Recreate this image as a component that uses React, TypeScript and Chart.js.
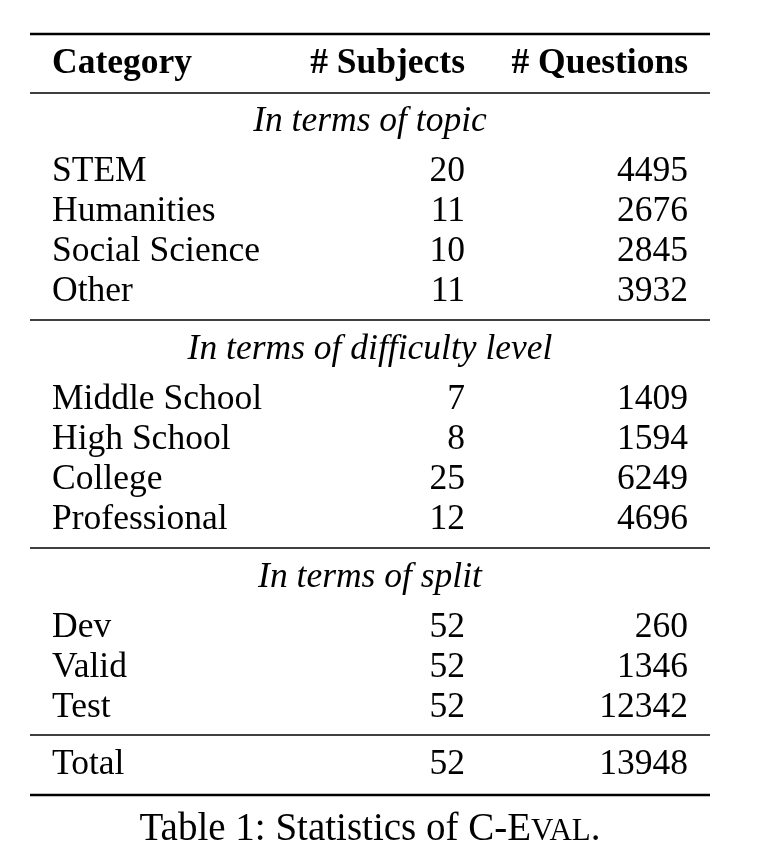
import { useEffect, useRef } from 'react';
import { Chart, registerables } from 'chart.js';

Chart.register(...registerables);

const headers = ['Category', '# Subjects', '# Questions'];
const sections = ['In terms of topic', 'In terms of difficulty level', 'In terms of split'];
const categories = [
  ['STEM', 'Humanities', 'Social Science', 'Other'],
  ['Middle School', 'High School', 'College', 'Professional'],
  ['Dev', 'Valid', 'Test'],
];
const subjects = [
  [20, 11, 10, 11],
  [7, 8, 25, 12],
  [52, 52, 52],
];
const questions = [
  [4495, 2676, 2845, 3932],
  [1409, 1594, 6249, 4696],
  [260, 1346, 12342],
];
const total = { label: 'Total', subjects: 52, questions: 13948 };

const SERIF = '"Liberation Serif", "DejaVu Serif", serif';

export default function App() {
  const canvasRef = useRef<HTMLCanvasElement | null>(null);
  const chartRef = useRef<Chart | null>(null);

  useEffect(() => {
    document.body.style.margin = '0';
    if (!canvasRef.current) return;
    if (chartRef.current) chartRef.current.destroy();

    const tablePlugin = {
      id: 'table',
      afterDraw(chart: any) {
        const ctx = chart.ctx as CanvasRenderingContext2D;
        const x = chart.scales.x;
        const y = chart.scales.y;
        const px = (v: number) => x.getPixelForValue(v);
        const py = (v: number) => y.getPixelForValue(v);
        ctx.save();
        ctx.fillStyle = '#000';
        ctx.strokeStyle = '#000';
        const rule = (at: number, w: number) => {
          ctx.lineWidth = w;
          ctx.beginPath();
          ctx.moveTo(px(30), py(at));
          ctx.lineTo(px(710), py(at));
          ctx.stroke();
        };
        const text = (s: string, tx: number, ty: number, align: CanvasTextAlign, font: string) => {
          ctx.font = font;
          ctx.textAlign = align;
          ctx.textBaseline = 'middle';
          ctx.fillText(s, px(tx), py(ty));
        };
        const reg = `35.5px ${SERIF}`;
        const bold = `bold 35.5px ${SERIF}`;
        const ital = `italic 35.5px ${SERIF}`;

        rule(34, 2.5);
        text(headers[0], 52, 64, 'left', bold);
        text(headers[1], 465, 64, 'right', bold);
        text(headers[2], 688, 64, 'right', bold);
        rule(93, 1.5);

        const starts = [122, 350, 578];
        sections.forEach((sec, s) => {
          const top = starts[s];
          text(sec, 370, top, 'center', ital);
          categories[s].forEach((c, i) => {
            const ry = top + 50 + i * 40;
            text(c, 52, ry, 'left', reg);
            text(String(subjects[s][i]), 465, ry, 'right', reg);
            text(String(questions[s][i]), 688, ry, 'right', reg);
          });
          if (s < 2) rule(top + 198, 1.5);
        });
        rule(735, 1.5);
        text(total.label, 52, 765, 'left', reg);
        text(String(total.subjects), 465, 765, 'right', reg);
        text(String(total.questions), 688, 765, 'right', reg);
        rule(795, 2.5);

        // caption with small caps "EVAL"
        const big = `39px ${SERIF}`;
        const small = `31px ${SERIF}`;
        const parts: [string, string][] = [['Table 1: Statistics of C-E', big], ['VAL', small], ['.', big]];
        let w = 0;
        parts.forEach(([s, f]) => { ctx.font = f; w += ctx.measureText(s).width; });
        let cx = px(370) - w / 2;
        ctx.textAlign = 'left';
        ctx.textBaseline = 'alphabetic';
        parts.forEach(([s, f]) => {
          ctx.font = f;
          ctx.fillText(s, cx, py(840));
          cx += ctx.measureText(s).width;
        });
        ctx.restore();
      },
    };

    chartRef.current = new Chart(canvasRef.current, {
      type: 'scatter',
      data: { datasets: [{ data: [] }] },
      options: {
        animation: false,
        responsive: false,
        events: [],
        layout: { padding: 0 },
        plugins: { legend: { display: false }, tooltip: { enabled: false } },
        scales: {
          x: { type: 'linear', min: 0, max: 761, display: false },
          y: { type: 'linear', min: 0, max: 861, reverse: true, display: false },
        },
      },
      plugins: [tablePlugin],
    });

    return () => {
      chartRef.current?.destroy();
      chartRef.current = null;
    };
  }, []);

  return (
    <div style={{ width: 761, height: 861, background: '#fff' }}>
      <canvas ref={canvasRef} width={761} height={861} />
    </div>
  );
}
